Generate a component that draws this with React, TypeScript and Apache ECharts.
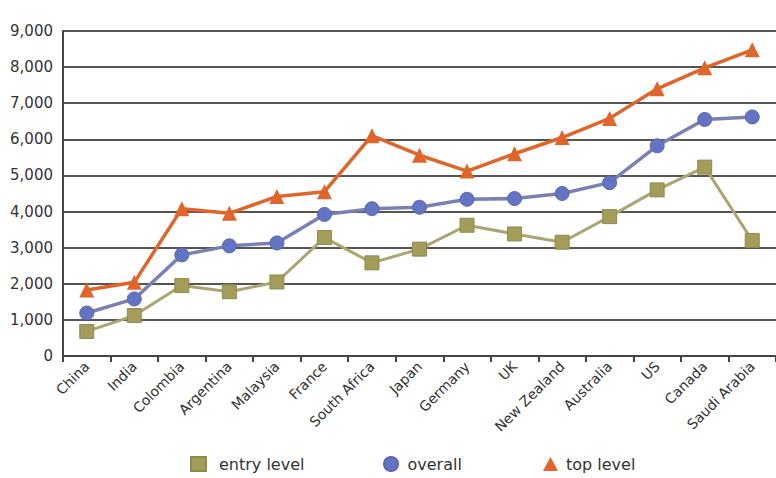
import React, { useEffect, useRef } from "react";
import * as echarts from "echarts";

const categories = ["China", "India", "Colombia", "Argentina", "Malaysia", "France", "South Africa", "Japan", "Germany", "UK", "New Zealand", "Australia", "US", "Canada", "Saudi Arabia"];
const entryLevel = [680, 1120, 1950, 1780, 2050, 3280, 2580, 2960, 3620, 3380, 3150, 3860, 4600, 5230, 3200];
const overall = [1190, 1580, 2800, 3050, 3130, 3920, 4080, 4120, 4340, 4360, 4500, 4800, 5820, 6550, 6620];
const topLevel = [1830, 2040, 4080, 3950, 4420, 4550, 6100, 5560, 5120, 5600, 6050, 6580, 7400, 7980, 8480];
const yTicks = [0, 1000, 2000, 3000, 4000, 5000, 6000, 7000, 8000, 9000];
const legendNames = ["entry level", "overall", "top level"];

const FONT = "DejaVu Sans";

export default function App() {
  const ref = useRef<HTMLDivElement>(null);
  useEffect(() => {
    if (!ref.current) return;
    const chart = echarts.init(ref.current, null, { renderer: "svg" });
    const icons = ["rect", "circle", "triangle"];
    const lefts = [190, 383, 543];
    const pads = [8, 4, 3];
    chart.setOption({
      animation: false,
      backgroundColor: "#ffffff",
      grid: { left: 63, right: 0, top: 31, bottom: 122, containLabel: false },
      legend: legendNames.map((n, i) => ({
        top: 456,
        left: lefts[i],
        padding: 0,
        itemWidth: 15,
        itemHeight: 14,
        textStyle: { color: "#333", fontSize: 16, fontFamily: FONT, padding: [0, 0, 0, pads[i]] },
        data: [{ name: n, icon: icons[i] }],
      })),
      xAxis: {
        type: "category",
        data: categories,
        boundaryGap: true,
        axisLine: { show: true, lineStyle: { color: "#444", width: 2 } },
        axisTick: { show: true, length: 6, lineStyle: { color: "#444", width: 2 } },
        axisLabel: { rotate: 45, color: "#333", fontSize: 14, fontFamily: FONT, margin: 8 },
        splitLine: { show: false },
      },
      yAxis: {
        type: "value",
        min: yTicks[0],
        max: yTicks[yTicks.length - 1],
        interval: 1000,
        axisLine: { show: true, lineStyle: { color: "#444", width: 2 } },
        axisTick: { show: false },
        axisLabel: {
          color: "#333",
          fontSize: 15,
          fontFamily: FONT,
          margin: 10,
          formatter: (v: number) => v.toLocaleString("en-US"),
        },
        splitLine: { show: true, lineStyle: { color: "#555", width: 2 } },
      },
      series: [
        {
          name: legendNames[0],
          type: "line",
          data: entryLevel,
          symbol: "rect",
          symbolSize: 14,
          itemStyle: { color: "#a39c5a", borderColor: "#8f8a4c", borderWidth: 1 },
          lineStyle: { color: "#aba473", width: 3 },
          z: 3,
        },
        {
          name: legendNames[1],
          type: "line",
          data: overall,
          symbol: "circle",
          symbolSize: 14,
          itemStyle: { color: "#6374c4", borderColor: "#5a68b0", borderWidth: 1 },
          lineStyle: { color: "#7a80b4", width: 3.5 },
          z: 4,
        },
        {
          name: legendNames[2],
          type: "line",
          data: topLevel,
          symbol: "triangle",
          symbolSize: 15,
          itemStyle: { color: "#e0652a" },
          lineStyle: { color: "#e0652a", width: 3.5 },
          z: 5,
        },
      ],
    });
    return () => chart.dispose();
  }, []);
  return <div ref={ref} style={{ width: 776, height: 478, position: "absolute", left: 0, top: 0 }} />;
}
